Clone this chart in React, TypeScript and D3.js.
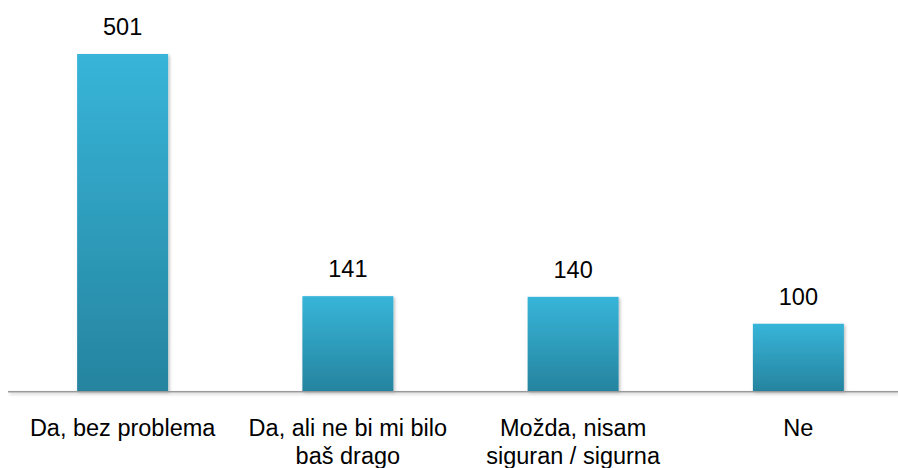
import React from "react";
import * as d3 from "d3";

const categories = [
  ["Da, bez problema"],
  ["Da, ali ne bi mi bilo", "baš drago"],
  ["Možda, nisam", "siguran / sigurna"],
  ["Ne"],
];
const values = [501, 141, 140, 100];

const W = 898;
const H = 468;

export default function App() {
  const x = d3
    .scaleBand<number>()
    .domain(values.map((_, i) => i))
    .range([10, 911])
    .paddingInner(0.596)
    .paddingOuter(0.298);
  const y = d3.scaleLinear().domain([0, 501]).range([391, 54]);
  const font = "'Liberation Sans', Arial, sans-serif";

  return (
    <svg
      width={W}
      height={H}
      style={{ position: "absolute", left: 0, top: 0, background: "#fff" }}
      fontFamily={font}
    >
      <defs>
        <linearGradient id="barGrad" x1="0" y1="0" x2="0" y2="1">
          <stop offset="0%" stopColor="#37b5d9" />
          <stop offset="100%" stopColor="#26849f" />
        </linearGradient>
        <filter id="shadow" filterUnits="userSpaceOnUse" x="0" y="0" width={W} height={H}>
          <feDropShadow dx="1.5" dy="1.5" stdDeviation="1.5" floodColor="#000" floodOpacity="0.25" />
        </filter>
      </defs>
      {values.map((v, i) => (
        <rect
          key={i}
          x={x(i)}
          y={y(v)}
          width={x.bandwidth()}
          height={y(0) - y(v)}
          fill="url(#barGrad)"
          filter="url(#shadow)"
        />
      ))}
      <rect
        x={8}
        y={y(0)}
        width={W - 8}
        height={1.5}
        fill="#999"
        filter="url(#shadow)"
      />
      {values.map((v, i) => (
        <text
          key={"v" + i}
          x={(x(i) ?? 0) + x.bandwidth() / 2}
          y={y(v) - 19}
          textAnchor="middle"
          fontSize={23.5}
          fill="#000"
        >
          {v}
        </text>
      ))}
      {categories.map((lines, i) => (
        <text
          key={"c" + i}
          x={(x(i) ?? 0) + x.bandwidth() / 2}
          y={436}
          textAnchor="middle"
          fontSize={23.5}
          fill="#000"
        >
          {lines.map((l, j) => (
            <tspan key={j} x={(x(i) ?? 0) + x.bandwidth() / 2} dy={j === 0 ? 0 : 27.5}>
              {l}
            </tspan>
          ))}
        </text>
      ))}
    </svg>
  );
}
